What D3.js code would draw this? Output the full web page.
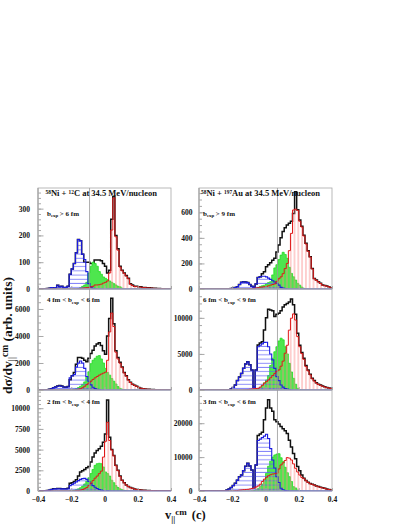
<!DOCTYPE html>
<html>
<head>
<meta charset="utf-8">
<script src="https://cdnjs.cloudflare.com/ajax/libs/d3/7.8.5/d3.min.js"></script>
<style>
  html, body { margin: 0; padding: 0; background: #fff; }
  text { font-family: "Liberation Serif", serif; font-weight: bold; fill: #111; }
</style>
</head>
<body>
<div id="chart"></div>
<script>
// 64 bins of width 0.0125 between -0.4 and 0.4
var binWidth = 0.0125;

// Ni + C, b > 6 fm
var cPeriTotal = [0,0,0,1,2,3,5,4,5,14,8,10,5,6,10,55,75,95,135,185,180,130,100,100,100,95,95,108,108,108,105,95,85,60,70,260,345,200,150,85,70,60,50,40,20,15,10,10,8,8,6,6,5,5,4,3,3,2,2,1,1,0,0,0];
var cPeriBlue = [0,0,0,1,2,3,5,4,5,14,8,10,5,6,10,55,75,95,135,185,180,130,110,65,20,8,3,1,0,0,0,0,0,0,0,0,0,0,0,0,0,0,0,0,0,0,0,0,0,0,0,0,0,0,0,0,0,0,0,0,0,0,0,0];
var cPeriGreen = [0,0,0,0,0,0,0,0,0,0,0,0,0,0,0,0,0,0,0,2,5,10,15,25,60,85,100,95,85,65,55,45,40,35,30,25,20,15,10,8,3,0,0,0,0,0,0,0,0,0,0,0,0,0,0,0,0,0,0,0,0,0,0,0];
var cPeriRed = [0,0,0,0,0,0,0,0,0,0,0,0,0,0,0,0,0,0,0,0,2,3,4,5,6,8,10,15,15,16,18,22,25,30,60,220,340,195,145,82,68,58,48,38,18,13,9,9,7,7,5,5,4,4,3,3,2,2,1,1,1,0,0,0];

// Ni + C, 4 < b < 6 fm
var cMidTotal = [0,0,0,0,20,60,100,170,220,290,330,290,230,210,260,750,1050,1300,1900,2400,2400,2350,2200,2100,2350,2700,2950,3250,3400,3500,3300,2900,2650,4000,5300,6800,4900,2900,2400,2050,1700,1300,1050,750,570,430,350,280,190,130,100,80,60,50,40,30,20,15,10,8,5,3,2,1];
var cMidBlue = [0,0,0,0,20,55,95,160,210,280,320,280,220,200,230,900,1050,1150,1700,2000,2150,2000,1600,1000,650,380,200,100,60,30,15,8,4,2,0,0,0,0,0,0,0,0,0,0,0,0,0,0,0,0,0,0,0,0,0,0,0,0,0,0,0,0,0,0];
var cMidGreen = [0,0,0,0,0,0,0,0,0,0,0,0,0,0,0,0,30,60,110,180,280,420,600,950,1350,1950,2200,2350,2500,2550,2300,2000,1600,1300,1100,850,650,450,250,120,60,30,12,5,0,0,0,0,0,0,0,0,0,0,0,0,0,0,0,0,0,0,0,0];
var cMidRed = [0,0,0,0,0,0,0,0,0,0,0,0,0,0,0,0,0,0,30,60,100,170,280,400,520,650,780,900,1000,1100,1180,1250,1320,2200,4300,5700,4700,2800,2300,1980,1650,1260,1020,730,550,420,340,270,185,125,95,75,58,48,38,28,18,14,9,7,4,2,1,0];

// Ni + C, 2 < b < 4 fm
var cCenTotal = [0,0,0,20,50,100,180,260,280,290,290,280,280,280,320,930,1000,1150,1350,1800,2300,2450,2600,2800,2950,3500,4100,4600,4900,5100,5400,5900,6900,11000,6500,5000,4300,3100,2500,1800,1300,1000,730,550,420,320,250,190,150,120,100,80,60,50,40,30,25,15,10,5,3,2,1,0];
var cCenBlue = [0,0,0,20,50,100,170,240,260,270,270,260,260,250,280,650,800,950,1100,1250,1400,1500,1530,1400,1150,900,650,450,300,180,100,50,25,12,5,0,0,0,0,0,0,0,0,0,0,0,0,0,0,0,0,0,0,0,0,0,0,0,0,0,0,0,0,0];
var cCenGreen = [0,0,0,0,0,0,0,0,0,0,0,0,0,0,0,20,50,100,170,260,400,600,850,1200,1600,2100,2600,3100,3300,3350,3300,2900,2300,2100,1800,1300,1000,650,420,260,150,80,40,15,0,0,0,0,0,0,0,0,0,0,0,0,0,0,0,0,0,0,0];
var cCenRed = [0,0,0,0,0,0,0,0,0,0,0,0,0,0,0,0,0,0,40,70,110,180,280,420,650,950,1250,1550,1800,2100,2400,4100,6000,8300,6100,4950,4250,3050,2450,1750,1280,980,710,530,405,310,240,185,145,115,95,75,58,48,38,28,22,14,9,4,2,1,0,0];

// Ni + Au, b > 9 fm
var auPeriTotal = [0,0,0,0,0,0,0,0,0,0,0,0,0,0,0,3,8,12,18,35,52,57,54,50,35,22,13,40,90,95,120,135,175,190,205,225,240,290,345,400,450,480,500,515,530,590,760,620,540,490,420,357,300,253,160,83,70,57,45,31,27,23,18,10];
var auPeriBlue = [0,0,0,0,0,0,0,0,0,0,0,0,0,0,0,3,8,12,18,35,52,57,54,50,35,22,13,40,90,95,100,100,95,85,75,65,55,45,30,13,8,4,2,0,0,0,0,0,0,0,0,0,0,0,0,0,0,0,0,0,0,0,0,0];
var auPeriGreen = [0,0,0,0,0,0,0,0,0,0,0,0,0,0,0,0,0,0,0,0,0,0,0,0,0,2,5,8,12,20,25,30,40,50,57,110,165,190,230,265,287,270,240,170,122,95,70,44,30,15,5,0,0,0,0,0,0,0,0,0,0,0,0,0];
var auPeriRed = [0,0,0,0,0,0,0,0,0,0,0,0,0,0,0,0,0,0,0,0,0,0,1,1,2,3,5,8,10,14,16,18,20,25,30,35,40,60,80,95,120,160,200,300,435,618,625,615,530,485,415,352,295,250,157,80,67,55,43,30,26,22,17,9];

// Ni + Au, 6 < b < 9 fm
var auMidTotal = [0,0,0,0,0,0,0,0,0,0,0,0,0,0,40,140,350,700,1300,1800,2300,3000,3600,3900,3500,2780,370,2780,6250,6500,6700,8330,10000,11200,11100,11000,10200,10500,10650,11000,11500,11800,12000,12200,12600,11800,10500,7870,6200,5200,4400,3400,2780,2200,1620,1300,1000,800,700,550,450,350,280,230];
var auMidBlue = [0,0,0,0,0,0,0,0,0,0,0,0,0,0,40,140,350,700,1300,1800,2300,3000,3600,3900,3500,2780,370,2780,6000,6200,6400,6600,6620,6000,5000,4170,3000,1850,1300,700,400,200,140,70,30,10,0,0,0,0,0,0,0,0,0,0,0,0,0,0,0,0,0,0];
var auMidGreen = [0,0,0,0,0,0,0,0,0,0,0,0,0,0,0,0,0,0,0,0,0,0,0,0,0,10,30,80,180,350,650,1000,1390,2000,3400,4400,5300,6000,6800,7180,6950,6000,5000,3700,2500,1620,800,230,60,10,0,0,0,0,0,0,0,0,0,0,0,0,0,0];
var auMidRed = [0,0,0,0,0,0,0,0,0,0,0,0,0,0,0,0,0,0,0,0,10,20,40,70,100,130,170,200,230,400,650,950,1160,1400,1700,2000,2300,2600,2780,3300,4000,5100,6200,8300,9950,10550,9700,7400,6000,5050,4250,3250,2650,2100,1540,1230,950,760,660,520,425,330,265,215];

// Ni + Au, 3 < b < 6 fm
var auCenTotal = [0,0,0,0,0,0,0,0,0,0,0,0,0,300,600,1000,1600,2270,3200,4200,4730,6000,7300,8180,7400,6200,985,7700,16350,16800,17300,21000,24500,26900,24500,23500,21000,20400,19800,19000,18400,17800,17000,15000,13000,11100,9500,7200,6000,4700,3740,3100,2600,2200,2000,1770,1500,1300,1100,950,790,600,450,300];
var auCenBlue = [0,0,0,0,0,0,0,0,0,0,0,0,0,300,600,1000,1600,2270,3200,4200,4730,6000,7300,8180,7400,6200,985,7700,14900,15300,15800,16200,16750,15500,12500,9160,6800,4200,2500,790,350,150,60,20,0,0,0,0,0,0,0,0,0,0,0,0,0,0,0,0,0,0,0,0];
var auCenGreen = [0,0,0,0,0,0,0,0,0,0,0,0,0,0,0,0,0,0,0,0,0,0,0,0,0,50,150,350,700,1300,2000,3250,5200,7300,8800,10000,10640,10900,11000,9800,8670,7000,5400,4240,2800,1280,900,300,100,20,0,0,0,0,0,0,0,0,0,0,0,0,0,0];
var auCenRed = [0,0,0,0,0,0,0,0,0,0,0,0,0,0,0,0,50,100,150,250,320,400,450,490,600,750,900,1200,1480,2000,2800,3500,4040,4500,4800,5000,5100,5220,6500,7700,8300,9000,9850,9700,9160,8000,6700,5600,4700,4000,3640,3020,2530,2140,1950,1720,1460,1260,1070,920,770,580,430,290];

var yMaxes = [377, 7480, 12200, 790, 14000, 29800];
var yMajor = [100, 2000, 2500, 200, 5000, 10000];
var yMinorPerMajor = [5, 4, 5, 4, 5, 5];
var xTicks = [-0.4, -0.2, 0, 0.2, 0.4];
var yLabels = [
  [0, 100, 200, 300],
  [0, 2000, 4000, 6000],
  [0, 2500, 5000, 7500, 10000],
  [0, 200, 400, 600],
  [0, 5000, 10000],
  [0, 10000, 20000]
];
var gateLabels = [
  ["b", "exp", " > 6 fm"],
  ["4 fm < b", "exp", " < 6 fm"],
  ["2 fm < b", "exp", " < 4 fm"],
  ["b", "exp", " > 9 fm"],
  ["6 fm < b", "exp", " < 9 fm"],
  ["3 fm < b", "exp", " < 6 fm"]
];
var cutLines = [-0.09, -0.09, -0.09, 0.072, 0.072, 0.072];

var totals = [cPeriTotal, cMidTotal, cCenTotal, auPeriTotal, auMidTotal, auCenTotal];
var blues = [cPeriBlue, cMidBlue, cCenBlue, auPeriBlue, auMidBlue, auCenBlue];
var greens = [cPeriGreen, cMidGreen, cCenGreen, auPeriGreen, auMidGreen, auCenGreen];
var reds = [cPeriRed, cMidRed, cCenRed, auPeriRed, auMidRed, auCenRed];

var width = 409, height = 529;
var colLeft = [38, 199], colWidth = 133;
var rowTop = [188, 289, 390], rowBottom = [289, 390, 491];
var gray = "#a8a8a8";

var svg = d3.select("#chart").append("svg")
  .attr("width", width).attr("height", height)
  .style("display", "block");
var defs = svg.append("defs");

// Hatch fills for the three components
function addHatch(id, size, drawn) {
  var p = defs.append("pattern").attr("id", id)
    .attr("patternUnits", "userSpaceOnUse")
    .attr("width", size).attr("height", size);
  drawn(p);
}
addHatch("hatchBlue", 4.2, function (p) {
  p.append("line").attr("x1", 0).attr("x2", 4.2).attr("y1", 2).attr("y2", 2)
    .attr("stroke", "#5a5af8").attr("stroke-width", 0.7);
});
addHatch("hatchRed", 3.8, function (p) {
  p.append("line").attr("y1", 0).attr("y2", 3.8).attr("x1", 1.9).attr("x2", 1.9)
    .attr("stroke", "#fb8a8a").attr("stroke-width", 0.8);
});
addHatch("hatchGreen", 1.6, function (p) {
  p.append("rect").attr("width", 1.6).attr("height", 1.6).attr("fill", "#62f462");
  p.append("path").attr("d", "M0,0L1.6,1.6M1.6,0L0,1.6")
    .attr("stroke", "#2ed02e").attr("stroke-width", 0.3);
});

function stepPath(values, x, y) {
  var pts = [];
  values.forEach(function (v, i) {
    var x0 = -0.4 + i * binWidth;
    pts.push([x(x0), y(v)]);
    pts.push([x(x0 + binWidth), y(v)]);
  });
  return pts;
}

// One histogram panel
function drawPanel(k) {
  var col = k < 3 ? 0 : 1, row = k % 3;
  var left = colLeft[col], right = left + colWidth;
  var top = rowTop[row], bottom = rowBottom[row];

  var x = d3.scaleLinear().domain([-0.4, 0.4]).range([left, right]);
  var y = d3.scaleLinear().domain([0, yMaxes[k]]).range([bottom, top]);
  var g = svg.append("g");

  defs.append("clipPath").attr("id", "clip" + k).append("rect")
    .attr("x", left).attr("y", top).attr("width", colWidth).attr("height", bottom - top);

  var area = d3.area().x(function (d) { return d[0]; }).y0(bottom).y1(function (d) { return d[1]; });
  var line = d3.line();
  var marks = g.append("g").attr("clip-path", "url(#clip" + k + ")");

  marks.append("path").attr("d", line(stepPath(totals[k], x, y)))
    .attr("fill", "none").attr("stroke", "#111").attr("stroke-width", 1.5);
  marks.append("path").attr("d", area(stepPath(greens[k], x, y))).attr("fill", "url(#hatchGreen)");
  marks.append("path").attr("d", line(stepPath(greens[k], x, y)))
    .attr("fill", "none").attr("stroke", "#22dd22").attr("stroke-width", 0.8);
  marks.append("path").attr("d", area(stepPath(blues[k], x, y))).attr("fill", "url(#hatchBlue)");
  marks.append("path").attr("d", area(stepPath(reds[k], x, y))).attr("fill", "url(#hatchRed)");
  marks.append("path").attr("d", line(stepPath(blues[k], x, y)))
    .attr("fill", "none").attr("stroke", "#1c1ce0").attr("stroke-width", 1.1);
  marks.append("path").attr("d", line(stepPath(reds[k], x, y)))
    .attr("fill", "none").attr("stroke", "#e01818").attr("stroke-width", 1.0);

  // Frame and the gray cut line
  g.append("rect").attr("x", left).attr("y", top)
    .attr("width", colWidth).attr("height", bottom - top)
    .attr("fill", "none").attr("stroke", gray).attr("stroke-width", 0.8);
  g.append("line").attr("x1", left).attr("x2", left).attr("y1", top).attr("y2", bottom)
    .attr("stroke", gray).attr("stroke-width", 1.3);
  g.append("line").attr("x1", x(cutLines[k])).attr("x2", x(cutLines[k]))
    .attr("y1", top).attr("y2", bottom)
    .attr("stroke", "#999").attr("stroke-width", 0.8);
  g.append("line").attr("x1", left).attr("x2", right).attr("y1", bottom).attr("y2", bottom)
    .attr("stroke", "#8c8cc8").attr("stroke-width", 1);

  // Y axis, major ticks inside the frame
  var minorStep = yMajor[k] / yMinorPerMajor[k];
  var minors = d3.range(0, yMaxes[k], minorStep);
  var minorAxis = d3.axisRight(y).tickValues(minors).tickSize(3).tickFormat("");
  g.append("g").attr("transform", "translate(" + left + ",0)").call(minorAxis)
    .call(function (s) { s.select(".domain").remove(); s.selectAll("line").attr("stroke", gray); });

  var yAxis = d3.axisLeft(y).tickValues(yLabels[k]).tickSize(-5.5)
    .tickPadding(col === 0 ? 8 : 6.5).tickFormat(d3.format("d"));
  var ya = g.append("g").attr("transform", "translate(" + left + ",0)").call(yAxis);
  ya.select(".domain").remove();
  ya.selectAll("line").attr("stroke", gray);
  ya.selectAll("text").attr("font-size", 7.5).attr("font-family", null).attr("fill", "#111");

  // X axis, labels on the bottom row only
  var xAxis = d3.axisBottom(x).tickValues(xTicks).tickSize(-3).tickPadding(6)
    .tickFormat(row === 2 ? function (d) { return d === 0 ? "0" : d3.format(".1f")(d); } : "");
  var xa = g.append("g").attr("transform", "translate(0," + bottom + ")").call(xAxis);
  xa.select(".domain").remove();
  xa.selectAll("line").attr("stroke", gray);
  xa.selectAll("text").attr("font-size", 7.5).attr("font-family", null).attr("fill", "#111");

  // Impact parameter gate
  var gate = gateLabels[k];
  var t = g.append("text").attr("x", col === 0 ? 47 : 203)
    .attr("y", row === 0 ? 215.5 : (row === 1 ? 302 : 404)).attr("font-size", 7);
  t.append("tspan").text(gate[0]);
  t.append("tspan").attr("dy", 1.6).attr("font-size", 4.8).text(gate[1]);
  t.append("tspan").attr("dy", -1.6).text(gate[2]);
}

d3.range(6).forEach(drawPanel);

// Reaction titles
function addTitle(px, a, el, b, rest) {
  var t = svg.append("text").attr("x", px).attr("y", 196).attr("font-size", 8.5);
  t.append("tspan").attr("dy", -2.5).attr("font-size", 5.4).text(a);
  t.append("tspan").attr("dy", 2.5).text("Ni + ");
  t.append("tspan").attr("dy", -2.5).attr("font-size", 5.4).text(b);
  t.append("tspan").attr("dy", 2.5).text(el + rest);
}
addTitle(45.5, "58", "C", "12", " at 34.5 MeV/nucleon");
addTitle(201, "58", "Au", "197", " at 34.5 MeV/nucleon");

// Y title
var yTitle = svg.append("text")
  .attr("transform", "translate(12,335.5) rotate(-90)")
  .attr("text-anchor", "middle").attr("font-size", 13.5);
yTitle.append("tspan").text("dσ/dv");
yTitle.append("tspan").attr("dy", 3).attr("font-size", 9.5).text("||");
yTitle.append("tspan").attr("dy", -7).attr("font-size", 9.5).text("cm");
yTitle.append("tspan").attr("dy", 4).text(" (arb. units)");

// X title
var xTitle = svg.append("text").attr("x", 165).attr("y", 519).attr("font-size", 12.5);
xTitle.append("tspan").text("v");
xTitle.append("tspan").attr("dy", 3).attr("font-size", 9).text("||");
xTitle.append("tspan").attr("dy", -7).attr("font-size", 9).text("cm");
xTitle.append("tspan").attr("dy", 4).attr("dx", 5).text("(c)");
</script>
</body>
</html>
